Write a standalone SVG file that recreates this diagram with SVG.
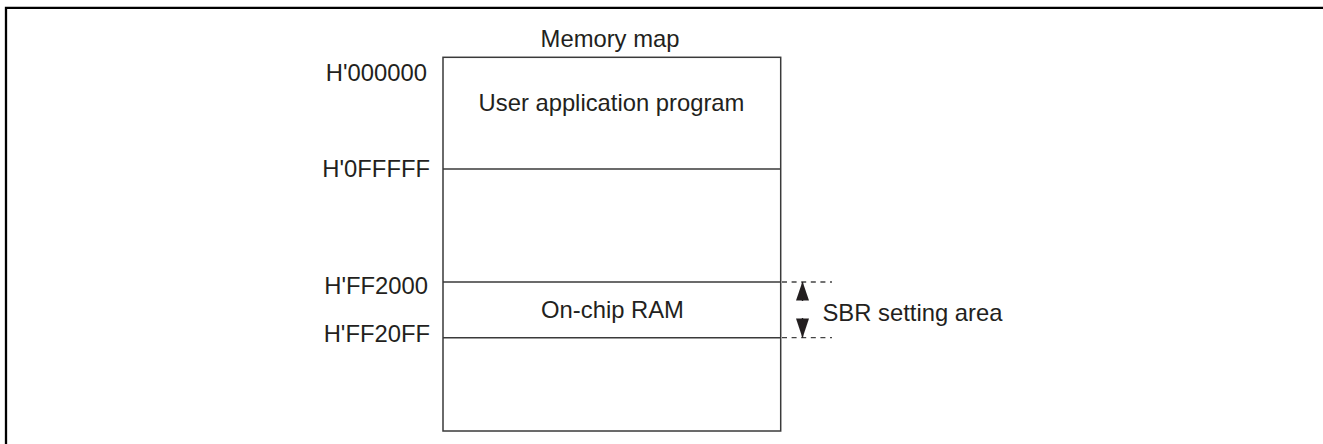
<svg xmlns="http://www.w3.org/2000/svg" width="1323" height="444" viewBox="0 0 1323 444">
<style>
text{font-family:"Liberation Sans",Arial,sans-serif;font-size:23.8px;fill:#231f20}
.addr{text-anchor:end}
.mid{text-anchor:middle}
.ln{stroke:#3a3a3a;stroke-width:1.5;fill:none}
.dash{stroke:#444;stroke-width:1.3;stroke-dasharray:5 4.6;fill:none}
</style>
<rect width="1323" height="444" fill="#fff"/>
<path d="M6,444 V7.8 H1323" stroke="#000" stroke-width="2.3" fill="none"/>
<g id="memory-map">
<text class="mid" x="610" y="46.5">Memory map</text>
<rect class="ln" x="443" y="57.3" width="337.7" height="373.7"/>
</g>
<g id="user-app">
<line class="ln" x1="443" y1="169" x2="780.7" y2="169"/>
<text class="mid" x="611.5" y="111">User application program</text>
</g>
<g id="onchip-ram">
<line class="ln" x1="443" y1="282" x2="780.7" y2="282"/>
<line class="ln" x1="443" y1="337.7" x2="780.7" y2="337.7"/>
<text class="mid" x="612.5" y="318.3">On-chip RAM</text>
</g>
<g id="addresses">
<text class="addr" x="427" y="80.5">H'000000</text>
<text class="addr" x="430" y="176.7">H'0FFFFF</text>
<text class="addr" x="428" y="294.3">H'FF2000</text>
<text class="addr" x="430" y="341.7">H'FF20FF</text>
</g>
<g id="connectors">
<line class="dash" x1="782" y1="282" x2="832" y2="282"/>
<line class="dash" x1="782" y1="337.7" x2="832" y2="337.7"/>
<path d="M802.5,301 V282" stroke="#231f20" stroke-width="1.4"/>
<path d="M802.5,318 V337.7" stroke="#231f20" stroke-width="1.4"/>
<path d="M802.5,281.5 L809,300.5 L796,300.5 Z" fill="#231f20"/>
<path d="M802.5,338 L809,318.5 L796,318.5 Z" fill="#231f20"/>
</g>
<g id="sbr-label">
<text x="822.5" y="321">SBR setting area</text>
</g>
</svg>
